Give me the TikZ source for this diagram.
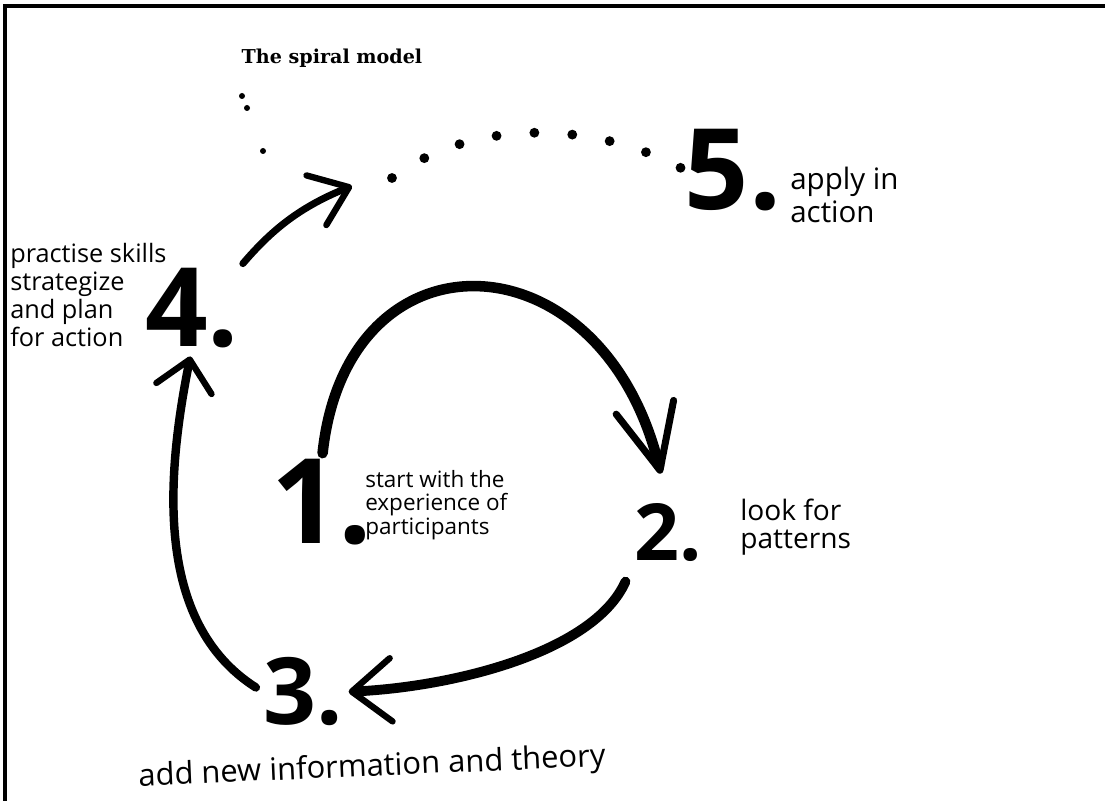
\documentclass[tikz,border=0pt]{standalone}
\usepackage{fontspec}
\usetikzlibrary{arrows.meta}
\newfontfamily\handfont{Open Sans}
\newfontfamily\titlefont{DejaVu Serif}
\tikzset{
  numeral/.style = {inner sep=0pt, font=\handfont\bfseries\fontsize{#1}{#1}\selectfont},
  hand/.style    = {inner sep=0pt, align=left, anchor=west},
  brush/.style   = {line width=6pt, line cap=round, draw=black},
  trail/.style   = {line width=7pt, line cap=round, dash pattern=on 0pt off 27pt}
}

\begin{document}
\begin{tikzpicture}[x=0.025cm, y=-0.025cm]
\useasboundingbox (0,0) rectangle (1105,801);
% ---- Frame (cut off at right and bottom) ----
\draw[line width=2.2pt] (5,801) -- (5,6) -- (1105,6);

% ---- Title ----
\node[font=\titlefont\bfseries\fontsize{13.6}{16}\selectfont] (title) at (332,58) {The spiral model};

% ---- Numbers ----
\foreach \nx/\ny/\sz/\k in {%
  322/502/84/1,
  668/533/56/2,
  303/692/66/3,
  192/308/78/4,
  733/170/80/5} {
  \node[numeral=\sz] (n\k) at (\nx,\ny) {\k.};
}

% ---- Notes ----
\node[hand, font=\handfont\fontsize{16}{16.5}\selectfont] (t1) at (365,505) {start with the\\experience of\\participants};
\node[hand, font=\handfont\fontsize{20}{20}\selectfont] (t2) at (740,527) {look for\\patterns};
\node[hand, font=\handfont\fontsize{21}{23}\selectfont] (t5) at (790,195) {apply in\\action};
\node[hand, font=\handfont\fontsize{18}{20}\selectfont] (t4) at (10,295) {practise skills\\strategize\\and plan\\for action};
\node[inner sep=0pt, rotate=2.5, font=\handfont\fontsize{22}{23}\selectfont] (t3) at (372,768) {add new information and theory};

% ---- Spiral strokes ----
\coordinate (topend) at (352,186);
\coordinate (dotstart) at (392,178);
\draw[brush, line width=7.5pt, shorten <=4pt, shorten >=22pt,
      -{Straight Barb[length=46pt, width=42pt, line width=5pt, round]}]
  (n1.north) .. controls +(25,-235) and +(-65,-271) .. (n2.north);
\draw[brush, line width=7pt, shorten <=15pt, shorten >=4pt,
      -{Straight Barb[length=28pt, width=45pt, line width=4.5pt, round]}]
  (n2.south west) .. controls +(-40,90) and +(110,-5) .. (n3.east);
\draw[brush, shorten <=6pt, shorten >=6pt,
      -{Straight Barb[length=21pt, width=40pt, line width=4.5pt, round]}]
  (n3.west) .. controls +(-110,-70) and +(-25,125) .. (n4.south);
\draw[brush, line width=5pt, shorten <=4pt,
      -{Straight Barb[length=25pt, width=38pt, line width=4.5pt, round]}]
  (n4.north east) .. controls +(30,-35) and +(-55,22) .. (topend);
\draw[trail] (dotstart) .. controls +(80,-60) and +(-90,-50) .. (n5.west);

% ---- Stray pen marks ----
\fill (242,96) circle[radius=3];
\fill (247,108) circle[radius=3];
\fill (263,151) circle[radius=3];
\end{tikzpicture}
\end{document}
